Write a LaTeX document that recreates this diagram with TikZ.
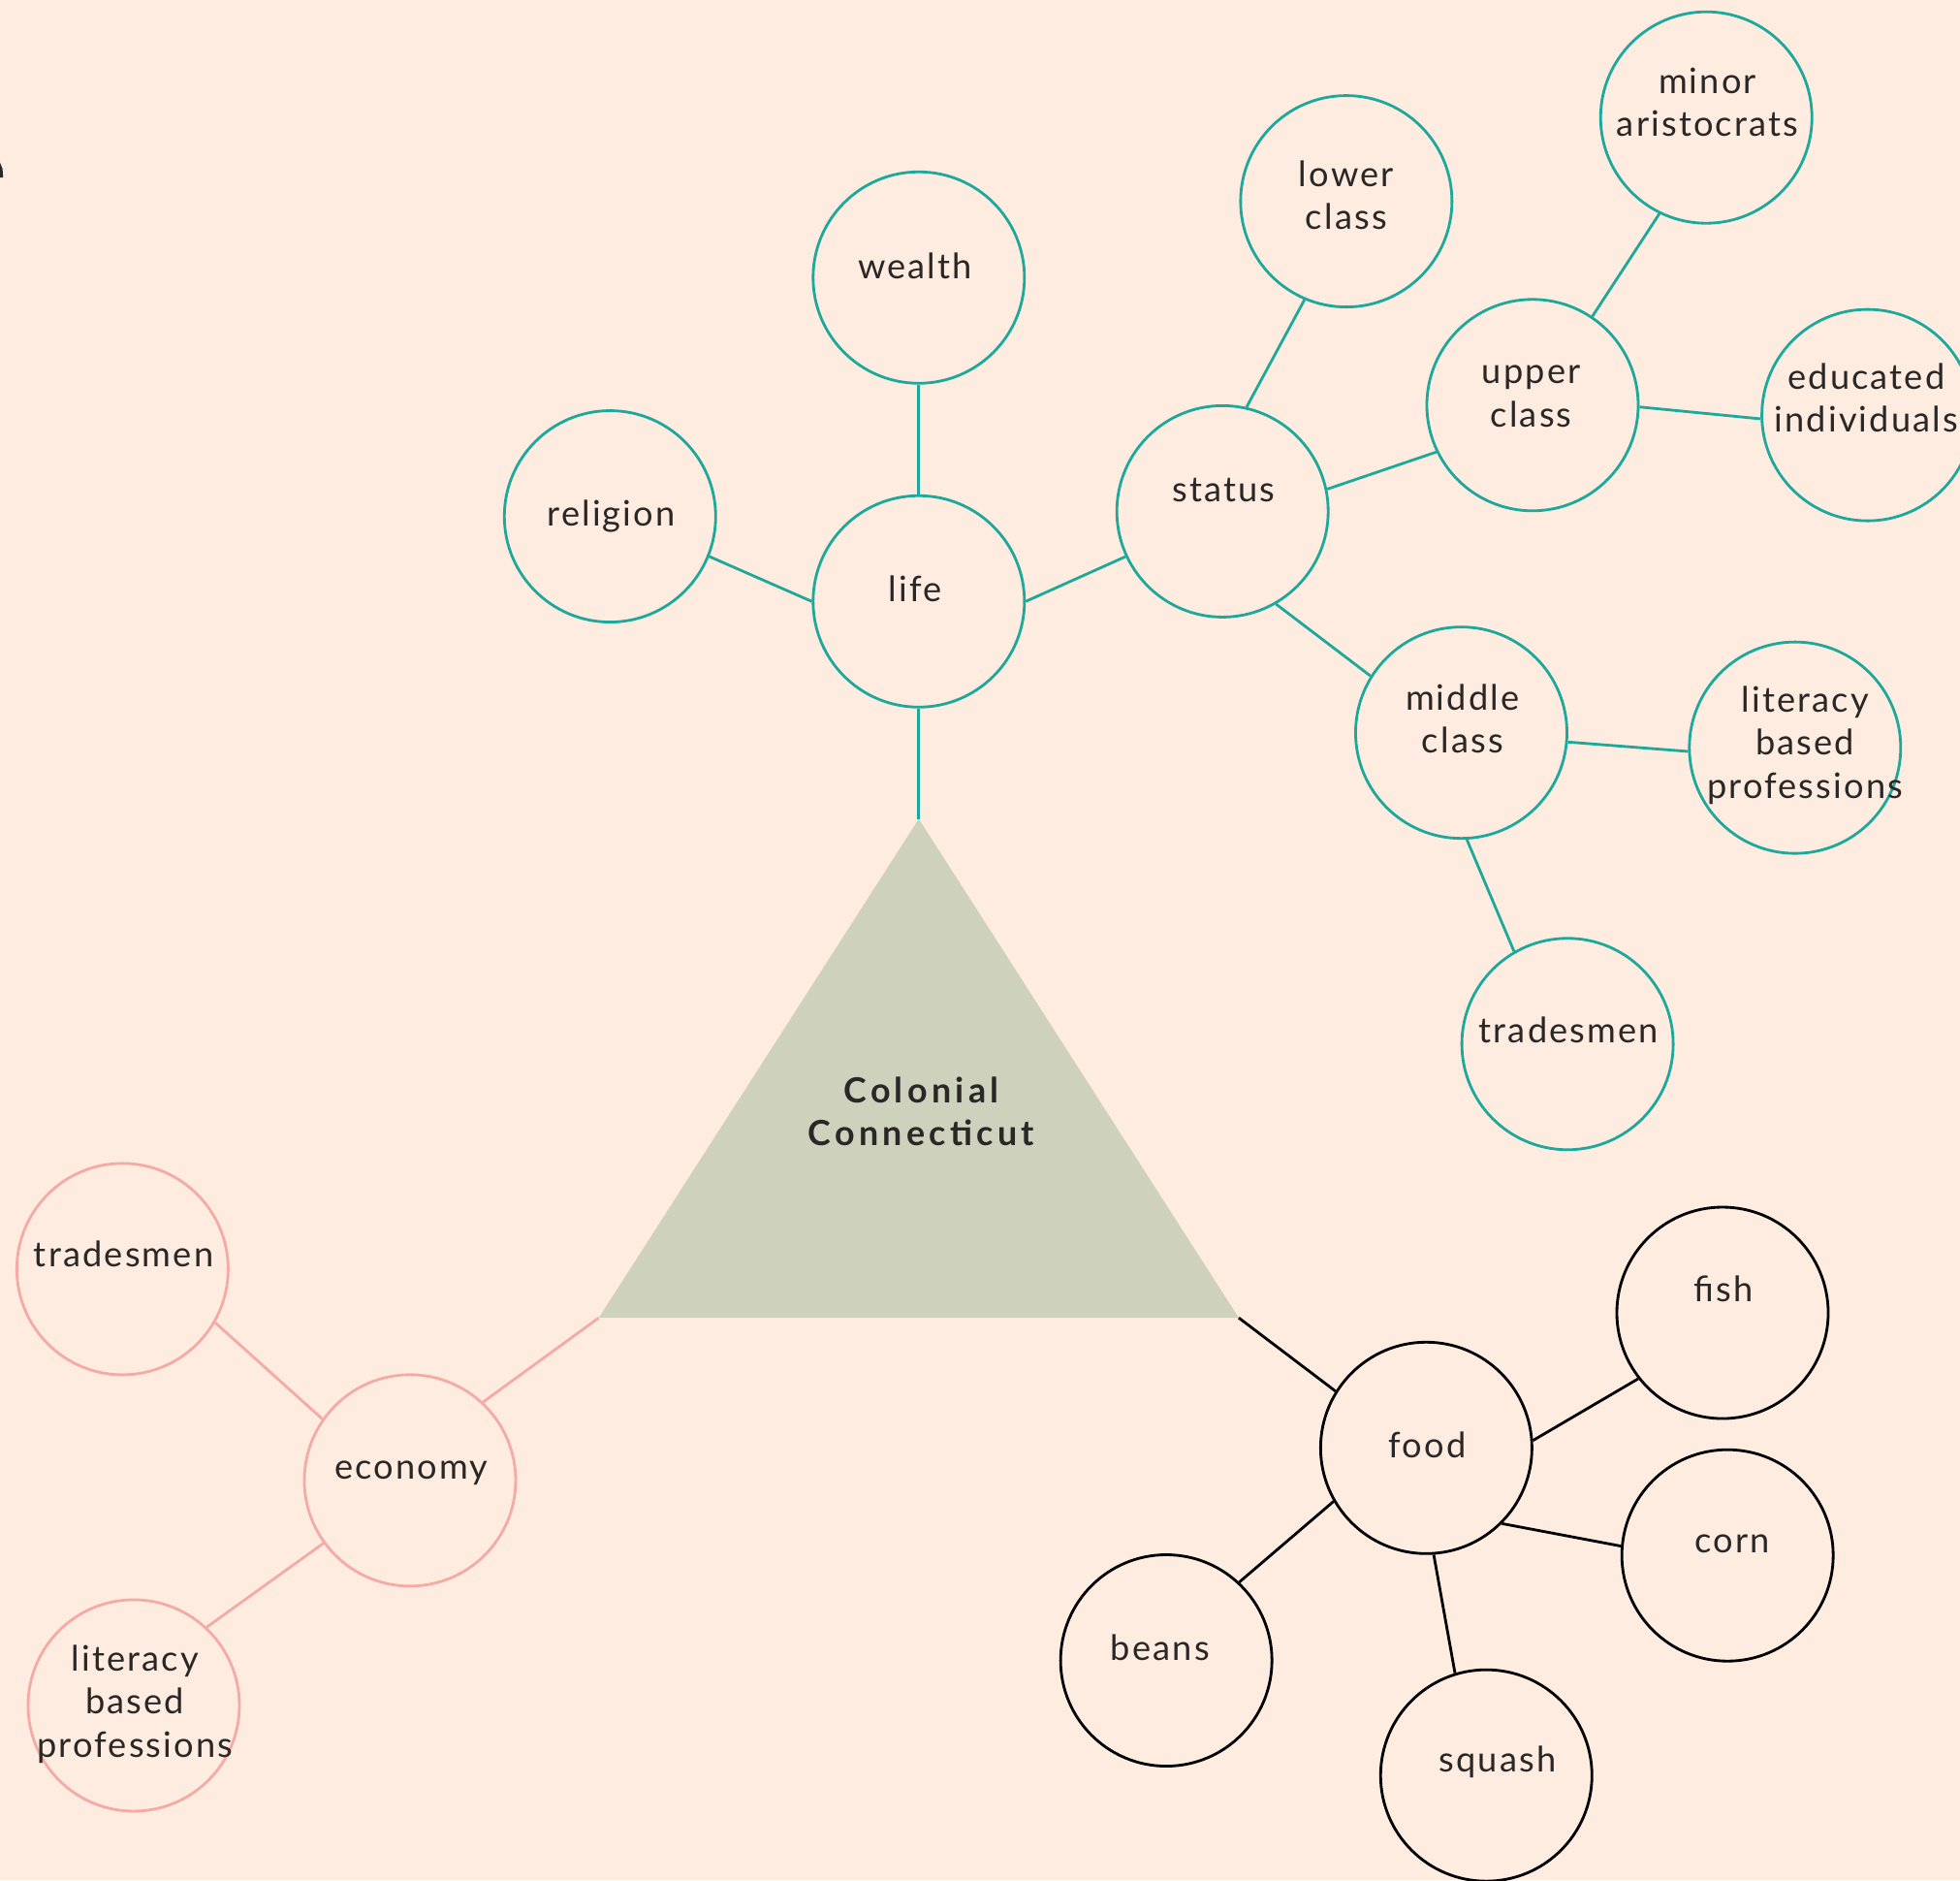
\documentclass[tikz,border=0pt]{standalone}
\usepackage{fontspec}
\setmainfont{Lato}
\definecolor{bg}{HTML}{FDECDF}
\definecolor{teal}{HTML}{1DA89C}
\definecolor{pinkc}{HTML}{F5AAA6}
\definecolor{tri}{HTML}{CED1BC}
\definecolor{txt}{HTML}{2A2727}
\tikzset{
  circ/.style={circle, draw, line width=0.8pt, minimum size=2.18cm, inner sep=0pt},
  tcirc/.style={circ, draw=teal},
  pcirc/.style={circ, draw=pinkc},
  kcirc/.style={circ, draw=black},
  lbl/.style={text=txt, align=center, inner sep=0pt, font=\fontsize{10.3}{12.6}\selectfont\addfontfeature{LetterSpace=6}},
  tl/.style={draw=teal, line width=0.8pt},
  pl/.style={draw=pinkc, line width=0.8pt},
  kl/.style={draw=black, line width=0.8pt},
}
\begin{document}
\begin{tikzpicture}[x=0.012895cm, y=-0.012895cm]
\fill[bg] (0,0) rectangle (1568,1504);
\clip (0,0) rectangle (1568,1504);
\useasboundingbox (0,0) rectangle (1568,1504);
% tiny clipped mark at left edge
\fill[txt] (0,130) -- (2,135) -- (2.5,142) -- (0,142) -- cycle;
% triangle
\coordinate (apex) at (735,655);
\coordinate (bl) at (479,1054);
\coordinate (br) at (991,1054);
\fill[tri] (apex) -- (bl) -- (br) -- cycle;
\node[lbl, font=\fontsize{10.2}{12.6}\selectfont\bfseries\addfontfeature{LetterSpace=12}] (title) at (737,889) {Colonial\\Connecticut};
% teal circles
\node[tcirc] (life) at (735,481) {};
\node[tcirc] (wealth) at (735,222) {};
\node[tcirc] (religion) at (488,413) {};
\node[tcirc] (status) at (978,409) {};
\node[tcirc] (lower) at (1077,161) {};
\node[tcirc] (upper) at (1226,324) {};
\node[tcirc] (minor) at (1365,94) {};
\node[tcirc] (educ) at (1494,332) {};
\node[tcirc] (middle) at (1169,586) {};
\node[tcirc] (litr) at (1436,598) {};
\node[tcirc] (trader) at (1254,835) {};
% pink circles
\node[pcirc] (economy) at (328,1184) {};
\node[pcirc] (tradel) at (98,1015) {};
\node[pcirc] (litl) at (107,1364) {};
% black circles
\node[kcirc] (food) at (1141,1158) {};
\node[kcirc] (fish) at (1378,1050) {};
\node[kcirc] (corn) at (1382,1244) {};
\node[kcirc] (squash) at (1189,1420) {};
\node[kcirc] (beans) at (933,1328) {};
% labels
\node[lbl] (t-life) at (732,471) {life};
\node[lbl] (t-wealth) at (732,213) {wealth};
\node[lbl] (t-religion) at (489,413) {religion};
\node[lbl] (t-status) at (979,392) {status};
\node[lbl] (t-lower) at (1077,156) {lower\\class};
\node[lbl] (t-upper) at (1225,317) {upper\\class};
\node[lbl] (t-minor) at (1366,82) {minor\\aristocrats};
\node[lbl] (t-educ) at (1493,318) {educated\\individuals};
\node[lbl] (t-middle) at (1170,575) {middle\\class};
\node[lbl] (t-litr) at (1444,596) {literacy\\based\\professions};
\node[lbl] (t-trader) at (1255,824) {tradesmen};
\node[lbl] (t-economy) at (329,1178) {economy};
\node[lbl] (t-tradel) at (99,1003) {tradesmen};
\node[lbl] (t-litl) at (108,1363) {literacy\\based\\professions};
\node[lbl] (t-food) at (1142,1156) {food};
\node[lbl] (t-fish) at (1379,1031) {fish};
\node[lbl] (t-corn) at (1386,1235) {corn};
\node[lbl] (t-squash) at (1198,1409) {squash};
\node[lbl] (t-beans) at (928,1318) {beans};
% teal connectors
\draw[tl] (life.90) -- (wealth.-90);
\draw[tl] (life.180) -- (religion.-22);
\draw[tl] (life.0) -- (status.205);
\draw[tl] (status.77) -- (lower.247);
\draw[tl] (status.12) -- (upper.206);
\draw[tl] (upper.56) -- (minor.244);
\draw[tl] (upper.-1) -- (educ.182);
\draw[tl] (status.-60) -- (middle.148);
\draw[tl] (middle.-5) -- (litr.182);
\draw[tl] (middle.-87) -- (trader.120);
\draw[tl] (life.-90) -- (apex);
% pink connectors
\draw[pl] (bl) -- (economy.47);
\draw[pl] (economy.145) -- (tradel.-30);
\draw[pl] (economy.216) -- (litl.47);
% black connectors
\draw[kl] (br) -- (food.148);
\draw[kl] (food.4) -- (fish.218);
\draw[kl] (food.-45) -- (corn.175);
\draw[kl] (food.-86) -- (squash.107);
\draw[kl] (food.210) -- (beans.47);
\end{tikzpicture}
\end{document}
